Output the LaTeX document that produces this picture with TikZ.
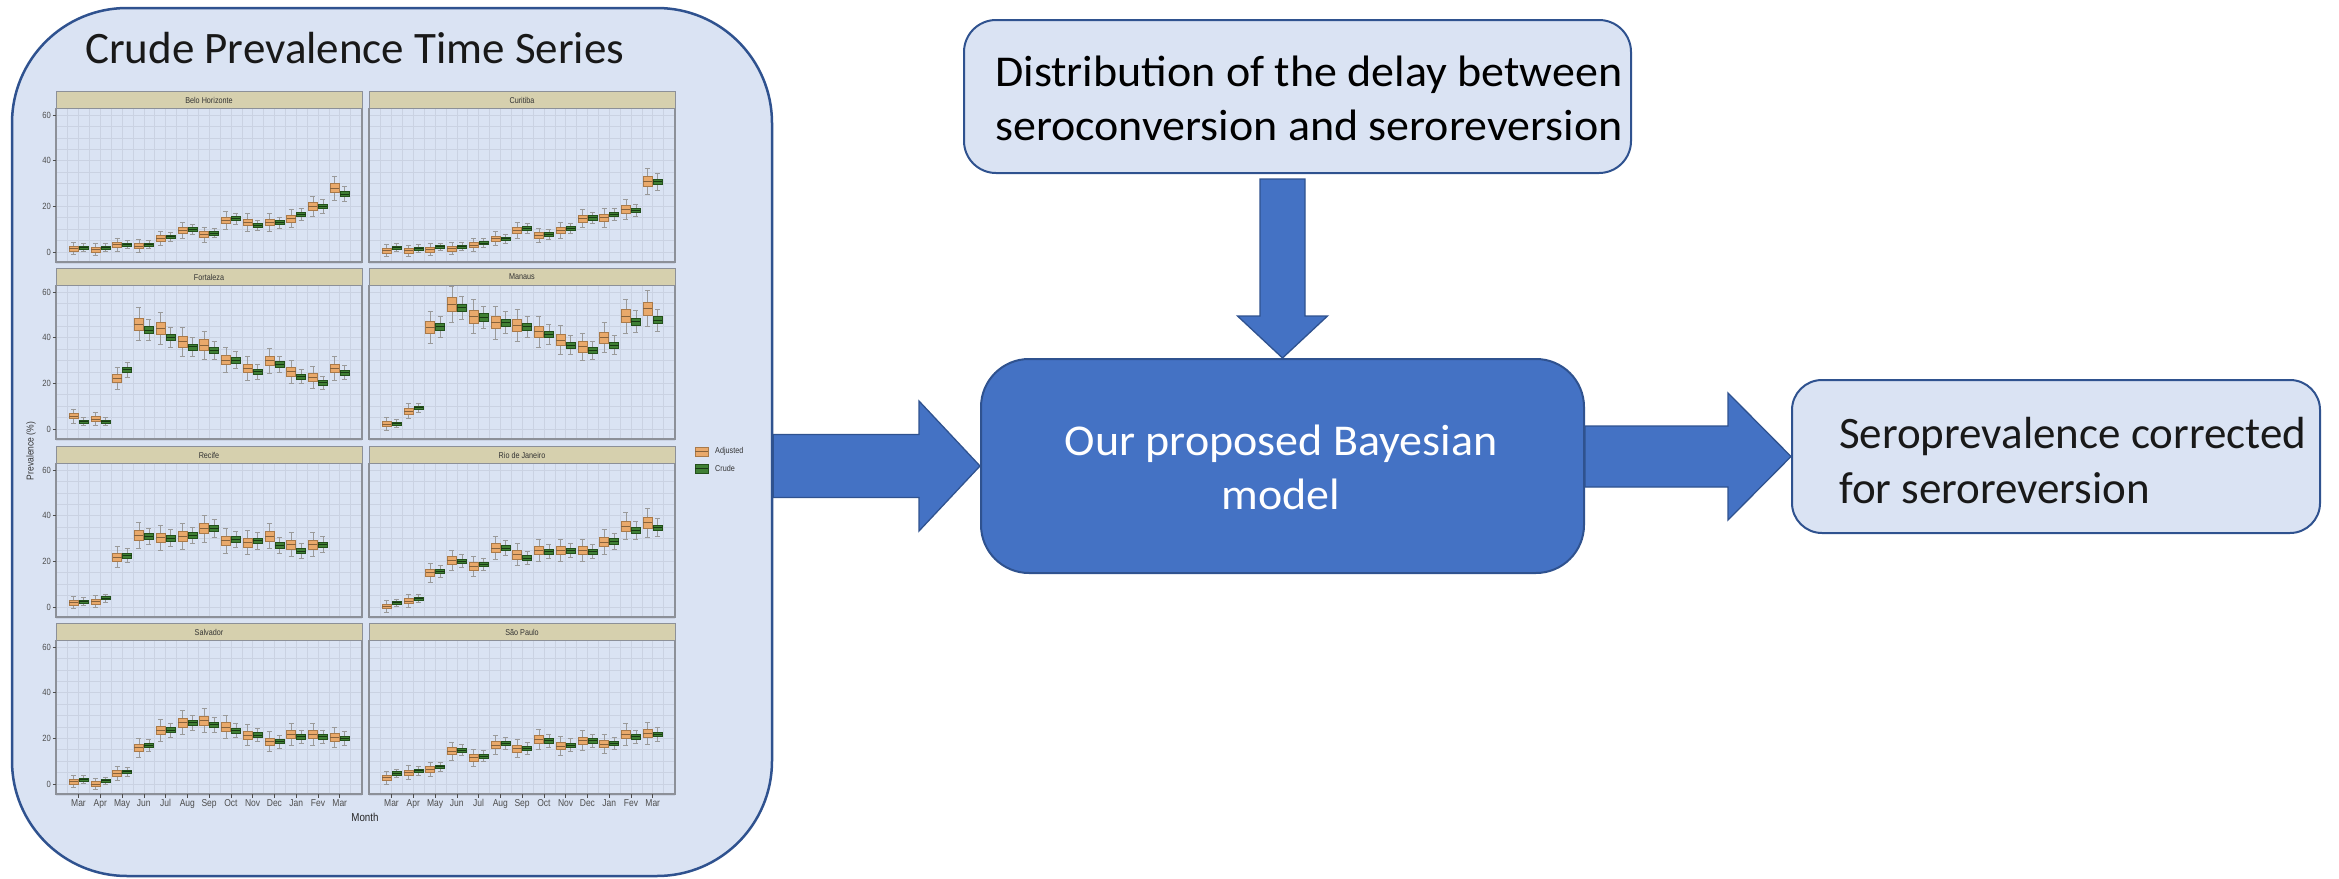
\documentclass[tikz,border=0pt]{standalone}
\usepackage{fontspec}
\setmainfont{Carlito}
\newfontfamily\chartfont[FakeStretch=0.85]{Liberation Sans}
\newfontfamily\widemodel[FakeStretch=1.045]{Carlito}
\newfontfamily\widedelay[FakeStretch=1.045]{Carlito}
\usetikzlibrary{calc}
\definecolor{boxfill}{HTML}{DAE3F3}
\definecolor{boxline}{HTML}{2F528F}
\definecolor{arrowfill}{HTML}{4472C4}
\definecolor{gridc}{HTML}{CAD2E2}
\definecolor{stripc}{HTML}{D6D0AE}
\definecolor{panelc}{HTML}{8C9098}
\definecolor{adjc}{HTML}{E9A96B}
\definecolor{adjd}{HTML}{A97A4A}
\definecolor{crudec}{HTML}{3F7F34}
\definecolor{cruded}{HTML}{23501B}
\definecolor{whiskc}{HTML}{9A9A9A}
\definecolor{axtext}{HTML}{4D4D4D}
\tikzset{
  lightbox/.style={draw=boxline, fill=boxfill, line width=2pt},
  blockarrow/.style={draw=boxline, fill=arrowfill, line width=1.3pt, line join=miter},
  gridl/.style={draw=gridc, line width=0.55pt},
  stripline/.style={draw=panelc, line width=0.8pt},
  panelline/.style={draw=panelc, line width=1.3pt},
  striptext/.style={font=\chartfont\fontsize{8.5}{10}\selectfont, text=black!80, inner sep=0pt},
  axlab/.style={font=\chartfont\fontsize{9}{11}\selectfont, text=axtext, inner sep=0pt},
  whisk/.style={draw=whiskc, line width=0.6pt},
  adjbox/.style={draw=adjd, fill=adjc, line width=0.5pt},
  crudebox/.style={draw=cruded, fill=crudec, line width=0.5pt},
  adjmed/.style={draw=adjd!80!black, line width=0.7pt},
  crudemed/.style={draw=cruded!70!black, line width=0.7pt},
  bigtext/.style={inner sep=0pt, font=\fontsize{43}{52}\selectfont},
}
\newcommand{\citypanel}[5]{%
  \begin{scope}[shift={(#2,#3)}]
    \fill[stripc] (0,0) rectangle (306,17.5);
    \foreach \k in {-1,...,25} {\draw[gridl] ({22.5+\k*10.885},17.5) -- ({22.5+\k*10.885},171);}
    \foreach \v in {-5,0,...,60} {\draw[gridl] (0,{24+(60-\v)*2.283}) -- (306,{24+(60-\v)*2.283});}
    \draw[stripline] (0,0) rectangle (306,17.5);
    \node[striptext] (#1) at (153,9) {#4};
    \foreach \mi/\va/\vc in {#5} {
      \pgfmathsetmacro{\xm}{22.5+\mi*21.77}
      \pgfmathsetmacro{\ya}{24+(60-\va)*2.283}
      \pgfmathsetmacro{\ba}{(1.0+0.035*\va)*2.283}
      \pgfmathsetmacro{\wa}{(2.5+0.1*\va)*2.283}
      \pgfmathsetmacro{\yc}{24+(60-\vc)*2.283}
      \pgfmathsetmacro{\bc}{(0.6+0.02*\vc)*2.283}
      \pgfmathsetmacro{\wc}{(1.5+0.07*\vc)*2.283}
      \draw[whisk] (\xm-5,\ya-\wa) -- (\xm-5,\ya+\wa)
        (\xm-7.5,\ya-\wa) -- (\xm-2.5,\ya-\wa) (\xm-7.5,\ya+\wa) -- (\xm-2.5,\ya+\wa);
      \draw[whisk] (\xm+5,\yc-\wc) -- (\xm+5,\yc+\wc)
        (\xm+2.5,\yc-\wc) -- (\xm+7.5,\yc-\wc) (\xm+2.5,\yc+\wc) -- (\xm+7.5,\yc+\wc);
      \draw[adjbox] (\xm-9.5,\ya-\ba) rectangle (\xm-0.5,\ya+\ba);
      \draw[adjmed] (\xm-9.5,\ya) -- (\xm-0.5,\ya);
      \draw[crudebox] (\xm+0.5,\yc-\bc) rectangle (\xm+9.5,\yc+\bc);
      \draw[crudemed] (\xm+0.5,\yc) -- (\xm+9.5,\yc);
    }
    \draw[panelline] (0,17.5) rectangle (306,171);
  \end{scope}}
\begin{document}
\begin{tikzpicture}[x=1pt,y=-1pt]
\useasboundingbox (0,0) rectangle (2339,878);
% ---- left container
\node[lightbox, line width=2.5pt, rounded corners=115pt, minimum width=760pt, minimum height=868pt, inner sep=0pt] (crude) at (392,442) {};
\node[inner sep=0pt, anchor=base west, font=\fontsize{45}{54}\selectfont, text=black!90] (title) at (85,63) {Crude Prevalence Time Series};
% ---- chart panels
\citypanel{bh}{56}{91}{Belo Horizonte}{0/1.5/2, 1/1/2, 2/3.3/3.3, 3/2.6/3.3, 4/6/6.8, 5/9.5/10, 6/7.7/8.3, 7/13.9/14.6, 8/13/11.7, 9/13/13, 10/14.6/16.5, 11/20/20, 12/28/25.3}
\citypanel{cu}{369}{91}{Curitiba}{0/0.6/2, 1/0.5/1.6, 2/1/2.3, 3/1.5/2.5, 4/3/4, 5/5.8/5.9, 6/9.5/10.3, 7/7.3/7.7, 8/9.6/10.5, 9/14.6/15, 10/15/16.5, 11/18.8/18.3, 12/31/30.8}
\citypanel{fo}{56}{268}{Fortaleza}{0/5.7/3.2, 1/4.4/3.2, 2/22.2/26.1, 3/46/43.4, 4/44/40.1, 5/38.2/36, 6/36.8/34.3, 7/30.2/30.2, 8/26.6/25.1, 9/29.9/28.3, 10/25.1/22.9, 11/22.6/20.3, 12/26.6/24.8}
\citypanel{ma}{369}{268}{Manaus}{0/2.2/2.5, 1/7.9/9.3, 2/44.5/44.8, 3/54.6/53.1, 4/49.2/48.9, 5/46.6/46.7, 6/45.5/44.8, 7/42.6/41.5, 8/39/36.8, 9/36/34.6, 10/40.1/36.8, 11/49.5/47, 12/52.8/47.7}
\citypanel{re}{56}{446}{Recife}{0/1.9/2.5, 1/2.5/3.9, 2/21.9/22.6, 3/31.4/31, 4/30.4/30.2, 5/31/31.4, 6/34.3/34.3, 7/29/29.6, 8/28.2/29, 9/31.1/27, 10/27.4/24.5, 11/27.3/27.4}
\citypanel{rj}{369}{446}{Rio de Janeiro}{0/0.4/1.9, 1/2.6/3.6, 2/15/15.6, 3/20.4/20.1, 4/17.9/18.7, 5/25.9/25.9, 6/22.9/21.5, 7/24.8/24.4, 8/24.8/24.8, 9/24.8/24.4, 10/28.5/28.8, 11/35.5/33.6, 12/36.9/34.7}
\citypanel{sa}{56}{623}{Salvador}{0/1/2, 1/0/1.5, 2/4.7/5.4, 3/16/16.9, 4/23.6/23.6, 5/26.9/26.9, 6/27.9/26.1, 7/25/23.4, 8/21.5/21.5, 9/18.6/18.6, 10/21.8/20.7, 11/21.8/20.7, 12/20.4/20}
\citypanel{sp}{369}{623}{São Paulo}{0/2.8/4.7, 1/5/5.8, 2/6.4/7.6, 3/14.5/14.9, 4/11.5/12.3, 5/17.1/17.8, 6/15.6/15.6, 7/19.6/19, 8/16.6/17.1, 9/19/19, 10/17.5/17.8, 11/21.8/20.7, 12/22.2/21.8}
% ---- y axis labels
\foreach \rt [count=\r] in {91,268,446,623} {
  \foreach \v in {0,20,40,60} {
    \draw[draw=axtext, line width=0.6pt] (52.5,{\rt+24+(60-\v)*2.283}) -- (56,{\rt+24+(60-\v)*2.283});
    \node[axlab, anchor=east] (yl\r-\v) at (51,{\rt+24+(60-\v)*2.283}) {\v};
  }
}
% ---- x axis labels
\foreach \m [count=\n from 0] in {Mar,Apr,May,Jun,Jul,Aug,Sep,Oct,Nov,Dec,Jan,Fev,Mar} {
  \draw[draw=axtext, line width=0.6pt] ({56+22.5+\n*21.77},794) -- ({56+22.5+\n*21.77},797.5);
  \draw[draw=axtext, line width=0.6pt] ({369+22.5+\n*21.77},794) -- ({369+22.5+\n*21.77},797.5);
  \node[axlab, anchor=north, font=\chartfont\fontsize{10}{12}\selectfont] (xl\n) at ({56+22.5+\n*21.77},799) {\m};
  \node[axlab, anchor=north, font=\chartfont\fontsize{10}{12}\selectfont] (xr\n) at ({369+22.5+\n*21.77},799) {\m};
}
\node[font=\chartfont\fontsize{11.5}{13}\selectfont, text=black!85, inner sep=0pt] (monthlab) at (365,817) {Month};
\node[font=\chartfont\fontsize{10}{12}\selectfont, text=black!80, inner sep=0pt, rotate=90] (prevlab) at (31,451) {Prevalence (\%)};
% ---- legend
\draw[adjbox] (695,447) rectangle (708,456);
\draw[adjmed] (695,451.5) -- (708,451.5);
\draw[crudebox] (695,464) rectangle (708,473);
\draw[crudemed] (695,468.5) -- (708,468.5);
\node[font=\chartfont\fontsize{8.5}{10}\selectfont, text=black!80, inner sep=0pt, anchor=west] (legadj) at (715,451.5) {Adjusted};
\node[font=\chartfont\fontsize{8.5}{10}\selectfont, text=black!80, inner sep=0pt, anchor=west] (legcru) at (715,468.5) {Crude};
% ---- right-hand boxes
\node[lightbox, rounded corners=32pt, minimum width=667pt, minimum height=153pt, inner sep=0pt] (delay) at (1297.5,96.5) {};
\node[bigtext, anchor=base west, font=\widedelay\fontsize{44}{52}\selectfont] (delay1) at (995,86) {Distribution of the delay between};
\node[bigtext, anchor=base west, font=\widedelay\fontsize{44}{52}\selectfont] (delay2) at (995,140) {seroconversion and seroreversion};
\node[draw=boxline, fill=arrowfill, line width=2pt, rounded corners=48pt, minimum width=603pt, minimum height=214pt, inner sep=0pt] (model) at (1282.5,466) {};
\node[bigtext, anchor=base, text=white, font=\widemodel\fontsize{44}{52}\selectfont] (model1) at (1281,455) {Our proposed Bayesian};
\node[bigtext, anchor=base, text=white, font=\widemodel\fontsize{44}{52}\selectfont] (model2) at (1281,509) {model};
\node[lightbox, rounded corners=30pt, minimum width=528pt, minimum height=153pt, inner sep=0pt] (result) at (2056,456.5) {};
\node[bigtext, anchor=base west, font=\fontsize{45}{54}\selectfont, text=black!90] (result1) at (1839,448) {Seroprevalence corrected};
\node[bigtext, anchor=base west, font=\fontsize{45}{54}\selectfont, text=black!90] (result2) at (1839,503) {for seroreversion};
% ---- block arrows
\draw[blockarrow] let \p1=(crude.east), \p2=(model.west) in
  (\x1,\y2+31.5) -- (\x2-61,\y2+31.5) -- (\x2-61,\y2+65) -- (\x2,\y2) -- (\x2-61,\y2-65) -- (\x2-61,\y2-31.5) -- (\x1,\y2-31.5) -- cycle;
\draw[blockarrow] let \p1=(model.east), \p2=(result.west) in
  (\x1,\y2+30.5) -- (\x2-63,\y2+30.5) -- (\x2-63,\y2+63.5) -- (\x2,\y2) -- (\x2-63,\y2-63.5) -- (\x2-63,\y2-30.5) -- (\x1,\y2-30.5) -- cycle;
\draw[blockarrow] let \p1=(delay.south), \p2=(model.north) in
  (\x2-22.5,\y1-5) -- (\x2-22.5,\y2+42) -- (\x2-45,\y2+42) -- (\x2,\y2) -- (\x2+45,\y2+42) -- (\x2+22.5,\y2+42) -- (\x2+22.5,\y1-5) -- cycle;
\end{tikzpicture}
\end{document}
